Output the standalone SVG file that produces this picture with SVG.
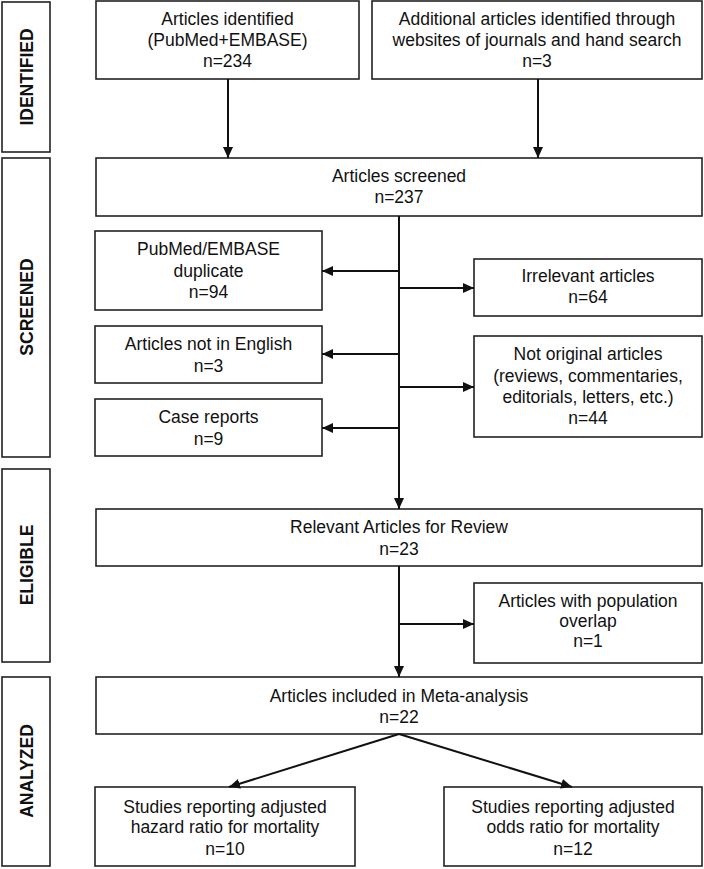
<svg xmlns="http://www.w3.org/2000/svg" width="704" height="869" viewBox="0 0 704 869">
<style>
  .box{fill:#fff;stroke:#222;stroke-width:1.6}
  .t{font-family:"Liberation Sans",Arial,sans-serif;font-size:17.5px;fill:#111;text-anchor:middle}
  .lab{font-family:"Liberation Sans",Arial,sans-serif;font-size:17.5px;font-weight:bold;fill:#111;text-anchor:middle}
  .c{stroke:#111;stroke-width:2;fill:none}
</style>
<defs>
  <marker id="ah" markerUnits="userSpaceOnUse" markerWidth="11" markerHeight="10" refX="11" refY="5" orient="auto">
    <path d="M0,0 L11,5 L0,10 z" fill="#111"/>
  </marker>
</defs>
<rect width="704" height="869" fill="#fff"/>

<g id="stage-identified"><rect class="box" x="2" y="2" width="48" height="150"/><text class="lab" transform="translate(33,77) rotate(-90)">IDENTIFIED</text></g>
<g id="stage-screened"><rect class="box" x="2" y="158" width="48" height="299"/><text class="lab" transform="translate(33,307) rotate(-90)">SCREENED</text></g>
<g id="stage-eligible"><rect class="box" x="2" y="469" width="48" height="193"/><text class="lab" transform="translate(33,565) rotate(-90)">ELIGIBLE</text></g>
<g id="stage-analyzed"><rect class="box" x="2" y="677" width="48" height="189"/><text class="lab" transform="translate(33,771) rotate(-90)">ANALYZED</text></g>

<g id="n-identified"><rect class="box" x="96" y="1" width="263" height="78"/>
<text class="t" x="227.5" y="25">Articles identified</text><text class="t" x="227.5" y="46">(PubMed+EMBASE)</text><text class="t" x="227.5" y="67">n=234</text></g>
<g id="n-additional"><rect class="box" x="372" y="1" width="330" height="78"/>
<text class="t" x="537" y="25">Additional articles identified through</text><text class="t" x="537" y="46">websites of journals and hand search</text><text class="t" x="537" y="67">n=3</text></g>
<g id="n-screened"><rect class="box" x="96" y="158" width="606" height="58"/>
<text class="t" x="399" y="182">Articles screened</text><text class="t" x="399" y="203">n=237</text></g>
<g id="n-duplicate"><rect class="box" x="95" y="231" width="227" height="79"/>
<text class="t" x="208.5" y="255">PubMed/EMBASE</text><text class="t" x="208.5" y="277">duplicate</text><text class="t" x="208.5" y="298">n=94</text></g>
<g id="n-english"><rect class="box" x="95" y="326" width="227" height="57"/>
<text class="t" x="208.5" y="350">Articles not in English</text><text class="t" x="208.5" y="372">n=3</text></g>
<g id="n-case"><rect class="box" x="95" y="399" width="227" height="57"/>
<text class="t" x="208.5" y="423">Case reports</text><text class="t" x="208.5" y="445">n=9</text></g>
<g id="n-irrelevant"><rect class="box" x="474" y="259" width="228" height="57"/>
<text class="t" x="588" y="282">Irrelevant articles</text><text class="t" x="588" y="303">n=64</text></g>
<g id="n-notoriginal"><rect class="box" x="474" y="336" width="228" height="101"/>
<text class="t" x="588" y="360">Not original articles</text><text class="t" x="588" y="382">(reviews, commentaries,</text><text class="t" x="588" y="403">editorials, letters, etc.)</text><text class="t" x="588" y="424">n=44</text></g>
<g id="n-relevant"><rect class="box" x="96" y="509" width="606" height="57"/>
<text class="t" x="399" y="533">Relevant Articles for Review</text><text class="t" x="399" y="555">n=23</text></g>
<g id="n-overlap"><rect class="box" x="474" y="583" width="228" height="80"/>
<text class="t" x="588" y="607">Articles with population</text><text class="t" x="588" y="627">overlap</text><text class="t" x="588" y="647">n=1</text></g>
<g id="n-meta"><rect class="box" x="96" y="677" width="606" height="57"/>
<text class="t" x="399" y="702">Articles included in Meta-analysis</text><text class="t" x="399" y="723">n=22</text></g>
<g id="n-hazard"><rect class="box" x="95" y="787" width="260" height="79"/>
<text class="t" x="225" y="813">Studies reporting adjusted</text><text class="t" x="225" y="833">hazard ratio for mortality</text><text class="t" x="225" y="855">n=10</text></g>
<g id="n-odds"><rect class="box" x="444" y="787" width="258" height="79"/>
<text class="t" x="573" y="813">Studies reporting adjusted</text><text class="t" x="573" y="833">odds ratio for mortality</text><text class="t" x="573" y="855">n=12</text></g>

<g id="connectors">
  <line class="c" x1="228" y1="79" x2="228" y2="158" marker-end="url(#ah)"/>
  <line class="c" x1="538" y1="79" x2="538" y2="158" marker-end="url(#ah)"/>
  <line class="c" x1="399" y1="216" x2="399" y2="509" marker-end="url(#ah)"/>
  <line class="c" x1="399" y1="271" x2="322" y2="271" marker-end="url(#ah)"/>
  <line class="c" x1="399" y1="354" x2="322" y2="354" marker-end="url(#ah)"/>
  <line class="c" x1="399" y1="428" x2="322" y2="428" marker-end="url(#ah)"/>
  <line class="c" x1="399" y1="288" x2="474" y2="288" marker-end="url(#ah)"/>
  <line class="c" x1="399" y1="387" x2="474" y2="387" marker-end="url(#ah)"/>
  <line class="c" x1="399" y1="566" x2="399" y2="677" marker-end="url(#ah)"/>
  <line class="c" x1="399" y1="624" x2="474" y2="624" marker-end="url(#ah)"/>
  <line class="c" x1="399" y1="734" x2="229" y2="787" marker-end="url(#ah)"/>
  <line class="c" x1="399" y1="734" x2="572" y2="787" marker-end="url(#ah)"/>
</g>
</svg>
